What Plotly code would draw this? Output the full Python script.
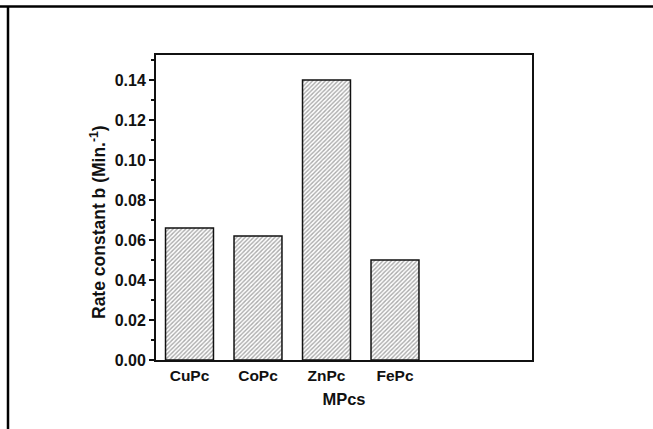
import plotly.graph_objects as go

categories = ["CuPc", "CoPc", "ZnPc", "FePc"]
positions = [1, 2, 3, 4]
rate_b = [0.066, 0.062, 0.140, 0.050]
y_ticks = [0.00, 0.02, 0.04, 0.06, 0.08, 0.10, 0.12, 0.14]
y_ticktext = ["0.00", "0.02", "0.04", "0.06", "0.08", "0.10", "0.12", "0.14"]

W, H = 653, 429
L, R, T, B = 156, 121, 55, 69
pw, ph = W - L - R, H - T - B

def px_x(x):
    return (x - L) / pw

def px_y(y):
    return (H - B - y) / ph

fig = go.Figure()
fig.add_trace(go.Bar(
    x=positions, y=rate_b, width=0.70,
    marker=dict(color="white",
                line=dict(color="#111", width=1.5),
                pattern=dict(shape="/", fgcolor="#555", bgcolor="white", size=3, solidity=0.45)),
    showlegend=False, hoverinfo="skip",
))

font = "Liberation Sans, Arial, sans-serif"
fig.update_layout(
    width=W, height=H,
    margin=dict(l=L, r=R, t=T, b=B, autoexpand=False),
    paper_bgcolor="white", plot_bgcolor="white",
    font=dict(family=font, color="#111"),
    xaxis=dict(range=[0.511, 6.0], tickvals=positions, ticktext=["<b>%s</b>" % c for c in categories],
               tickfont=dict(size=15.5), ticks="", showgrid=False, zeroline=False,
               showline=True, linecolor="#111", linewidth=2, mirror=True,
               title=dict(text="<b>MPcs</b>", font=dict(size=16.5), standoff=11)),
    yaxis=dict(range=[0, 0.1525], tickvals=y_ticks, ticktext=["<b>%s</b>" % t for t in y_ticktext],
               tickfont=dict(size=16), ticks="outside", ticklen=5, tickwidth=2, tickcolor="#111",
               minor=dict(ticks="outside", ticklen=3, tickwidth=1.5, dtick=0.01, tickcolor="#111"),
               showgrid=False, zeroline=False,
               showline=True, linecolor="#111", linewidth=2, mirror=True),
    annotations=[dict(text="<b>Rate constant b (Min.<sup>-1</sup>)</b>", textangle=-90,
                      xref="paper", yref="paper", x=px_x(98), y=px_y(222),
                      xanchor="center", yanchor="middle", showarrow=False,
                      font=dict(size=17.5, family=font, color="#111"))],
    shapes=[
        dict(type="line", xref="paper", yref="paper", x0=px_x(0), x1=px_x(653), y0=px_y(6.5), y1=px_y(6.5),
             line=dict(color="black", width=2.5)),
        dict(type="line", xref="paper", yref="paper", x0=px_x(8), x1=px_x(8), y0=px_y(6.5), y1=px_y(440),
             line=dict(color="black", width=2.5)),
    ],
)

fig.write_html("out.html", config={"displayModeBar": False},
               post_script="document.body.style.margin='0px';document.body.style.padding='0px';document.body.style.overflow='hidden';")
